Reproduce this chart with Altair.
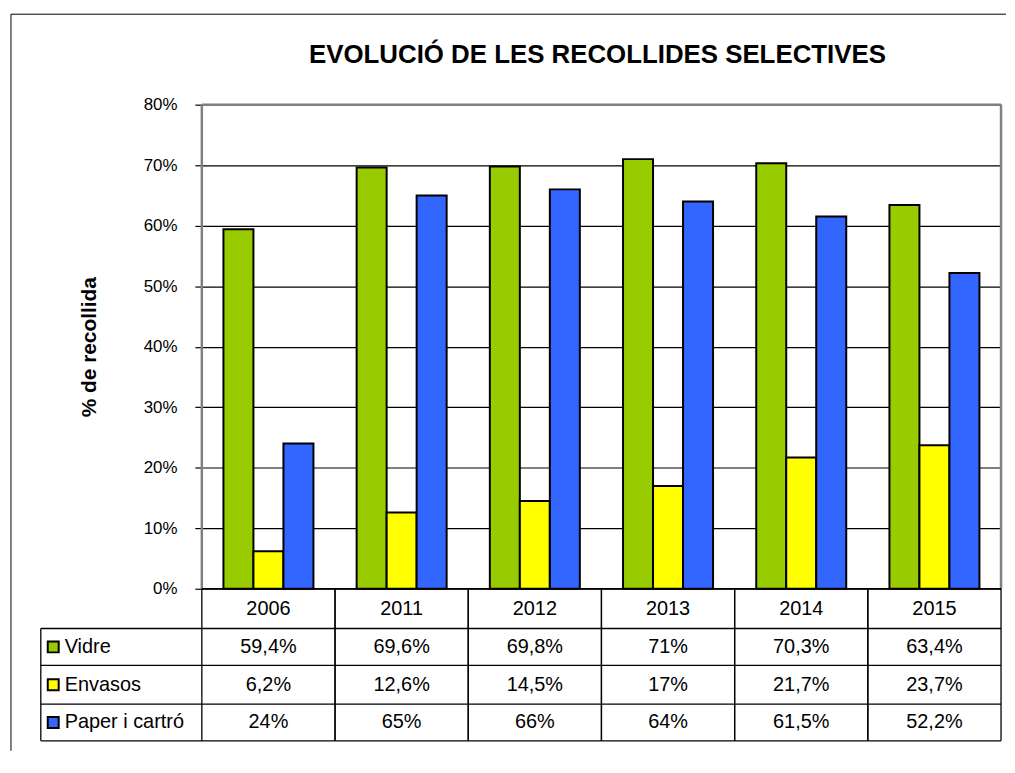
import altair as alt
import pandas as pd

years = ["2006", "2011", "2012", "2013", "2014", "2015"]
series = ["Vidre", "Envasos", "Paper i cartró"]
vidre = [59.4, 69.6, 69.8, 71, 70.3, 63.4]
envasos = [6.2, 12.6, 14.5, 17, 21.7, 23.7]
paper = [24, 65, 66, 64, 61.5, 52.2]
colors = ["#99CC00", "#FFFF00", "#3366FF"]
y_ticks = [0, 10, 20, 30, 40, 50, 60, 70, 80]
title_text = "EVOLUCIÓ DE LES RECOLLIDES SELECTIVES"
y_title = "% de recollida"


def fmt(v):
    return f"{v:g}".replace(".", ",") + "%"


rows = []
for s, vals in zip(series, [vidre, envasos, paper]):
    for yr, v in zip(years, vals):
        rows.append({"year": yr, "series": s, "value": v, "label": fmt(v)})
df = pd.DataFrame(rows)
year_df = pd.DataFrame({"year": years})
series_df = pd.DataFrame({"series": series})
one = pd.DataFrame({"a": [0]})

W, H = 804, 487
FONT = "Liberation Sans"
row_lines = [H + 40, H + 77, H + 116, H + 153]
row_mid = [H + 58.5, H + 96.5, H + 134.5]

x_scale = alt.Scale(domain=years, paddingInner=0, paddingOuter=0)
color_scale = alt.Scale(domain=series, range=colors)


def xenc(bp=None):
    if bp is None:
        return alt.X("year:N", sort=years, scale=x_scale, axis=None)
    return alt.X("year:N", sort=years, scale=x_scale, axis=None, bandPosition=bp)


bars = alt.Chart(df).mark_bar(stroke="black", strokeWidth=2).encode(
    x=xenc(),
    xOffset=alt.XOffset("series:N", sort=series,
                        scale=alt.Scale(domain=series, paddingInner=0, paddingOuter=0.72)),
    y=alt.Y("value:Q", scale=alt.Scale(domain=[0, 80], nice=False),
            axis=alt.Axis(values=y_ticks, labelExpr="datum.value + '%'",
                          grid=True, gridColor="black", gridWidth=1.2,
                          domain=False, tickColor="black", tickSize=7, tickWidth=1.2,
                          labelPadding=18, labelFont=FONT, labelFontSize=17,
                          labelColor="black",
                          title=y_title, titleFont=FONT, titleFontSize=21,
                          titleFontWeight="bold", titleColor="black",
                          titleAngle=270, titleAlign="center", titleBaseline="middle",
                          titleX=-113, titleY=H / 2)),
    color=alt.Color("series:N", sort=series, scale=color_scale, legend=None),
)

layers = [bars]

# plot-area border (grey)
border = dict(color="#808080", strokeWidth=2.5)
layers.append(alt.Chart(one).mark_rule(**border).encode(
    x=alt.value(0), x2=alt.value(W), y=alt.value(0)))
layers.append(alt.Chart(one).mark_rule(**border).encode(
    x=alt.value(0), y=alt.value(0), y2=alt.value(H)))
layers.append(alt.Chart(one).mark_rule(**border).encode(
    x=alt.value(W), y=alt.value(0), y2=alt.value(H)))

# data table grid
tline = dict(color="black", strokeWidth=1.3)
layers.append(alt.Chart(year_df).mark_rule(**tline).encode(
    x=xenc(0), y=alt.value(H), y2=alt.value(row_lines[-1])))
layers.append(alt.Chart(year_df).mark_rule(**tline).encode(
    x=xenc(1), y=alt.value(H), y2=alt.value(row_lines[-1])))
layers.append(alt.Chart(one).mark_rule(**tline).encode(
    x=alt.value(0), x2=alt.value(W), y=alt.value(H)))
for yy in row_lines:
    layers.append(alt.Chart(one).mark_rule(**tline).encode(
        x=alt.value(-162), x2=alt.value(W), y=alt.value(yy)))
layers.append(alt.Chart(one).mark_rule(**tline).encode(
    x=alt.value(-162), y=alt.value(row_lines[0]), y2=alt.value(row_lines[-1])))

# header row (years)
layers.append(alt.Chart(year_df).mark_text(font=FONT, fontSize=20, baseline="middle",
                                           color="black").encode(
    x=xenc(), y=alt.value(H + 20), text="year:N"))

# value rows + legend keys
for s, ym in zip(series, row_mid):
    layers.append(alt.Chart(df).transform_filter(alt.datum.series == s).mark_text(
        font=FONT, fontSize=20, baseline="middle", color="black").encode(
        x=xenc(), y=alt.value(ym), text="label:N"))
    layers.append(alt.Chart(series_df).transform_filter(alt.datum.series == s).mark_rect(
        stroke="black", strokeWidth=2).encode(
        x=alt.value(-155), x2=alt.value(-144), y=alt.value(ym - 5.5), y2=alt.value(ym + 5.5),
        color=alt.Color("series:N", sort=series, scale=color_scale, legend=None)))
    layers.append(alt.Chart(series_df).transform_filter(alt.datum.series == s).mark_text(
        font=FONT, fontSize=20, baseline="middle", align="left", color="black").encode(
        x=alt.value(-138), y=alt.value(ym), text="series:N"))

# title
layers.append(alt.Chart(one).mark_text(font=FONT, fontSize=26, fontWeight="bold",
                                       align="center", baseline="alphabetic",
                                       color="black").encode(
    x=alt.value(W / 2 - 4), y=alt.value(-42), text=alt.value(title_text)))

# outer frame (left and top edges)
frame = dict(color="black", strokeWidth=1)
layers.append(alt.Chart(one).mark_rule(**frame).encode(
    x=alt.value(-192), x2=alt.value(809), y=alt.value(-91)))
layers.append(alt.Chart(one).mark_rule(**frame).encode(
    x=alt.value(-192), y=alt.value(-91), y2=alt.value(650)))

chart = alt.layer(*layers).properties(
    width=W, height=H,
    padding={"left": 2, "top": 3, "right": 0, "bottom": 0},
    background="white",
).configure_view(stroke=None)

chart.save("out.html", embed_options={"renderer": "svg", "actions": False})
